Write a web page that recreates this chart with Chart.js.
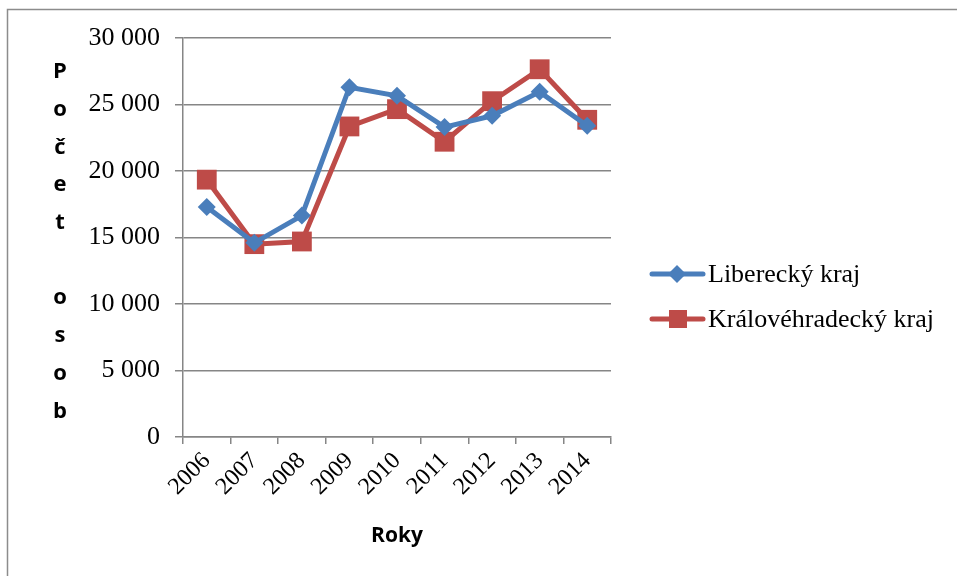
<!DOCTYPE html>
<html>
<head>
<meta charset="utf-8">
<script src="https://cdn.jsdelivr.net/npm/chart.js@4"></script>
<style>
  html, body { margin: 0; padding: 0; background: #fff; }
  #wrap { width: 957px; height: 576px; }
</style>
</head>
<body>
<div id="wrap"><canvas id="myChart" width="957" height="576"></canvas></div>
<script>
const years = ["2006", "2007", "2008", "2009", "2010", "2011", "2012", "2013", "2014"];
const liberecky = [17300, 14600, 16650, 26300, 25650, 23300, 24150, 25950, 23400];
const kralovehradecky = [19350, 14500, 14700, 23350, 24650, 22200, 25250, 27650, 23850];
const seriesNames = ["Liberecký kraj", "Královéhradecký kraj"];
const yTitleLetters = ["P", "o", "č", "e", "t", "", "o", "s", "o", "b"];
const xTitle = "Roky";

const blue = "#4a7ebb";
const red = "#be4b48";
const gridColor = "#868686";

function fmt(v) {
    return String(v).replace(/\B(?=(\d{3})+(?!\d))/g, " ");
}

// frame, stacked y title and legend
const extras = {
    id: "extras",
    afterDraw(chart) {
        const ctx = chart.ctx;
        ctx.save();
        ctx.strokeStyle = "#8c8c8c";
        ctx.lineWidth = 1.5;
        ctx.beginPath();
        ctx.moveTo(7.5, 600);
        ctx.lineTo(7.5, 9.5);
        ctx.lineTo(960, 9.5);
        ctx.stroke();

        ctx.fillStyle = "#000";
        ctx.font = "bold 22px 'Open Sans', sans-serif";
        ctx.textAlign = "center";
        ctx.textBaseline = "middle";
        yTitleLetters.forEach((ch, i) => {
            ctx.fillText(ch, 60, 72 + i * 37.7);
        });

        // legend
        const colors = [blue, red];
        const shapes = ["diamond", "square"];
        seriesNames.forEach((name, i) => {
            const y = 274 + i * 45;
            ctx.strokeStyle = colors[i];
            ctx.lineWidth = 5;
            ctx.lineCap = "round";
            ctx.beginPath();
            ctx.moveTo(652, y);
            ctx.lineTo(703, y);
            ctx.stroke();
            ctx.fillStyle = colors[i];
            ctx.beginPath();
            if (shapes[i] === "diamond") {
                ctx.moveTo(677, y - 9);
                ctx.lineTo(686, y);
                ctx.lineTo(677, y + 9);
                ctx.lineTo(668, y);
            } else {
                ctx.rect(669, y - 9, 18, 18);
            }
            ctx.closePath();
            ctx.fill();
            ctx.fillStyle = "#000";
            ctx.font = "26px 'Liberation Serif', serif";
            ctx.textAlign = "left";
            ctx.fillText(name, 708, y + 1);
        });
        ctx.restore();
    }
};

new Chart("myChart", {
    type: "line",
    data: {
        labels: years,
        datasets: [{
            label: seriesNames[0],
            data: liberecky,
            borderColor: blue,
            backgroundColor: blue,
            borderWidth: 5,
            pointStyle: "rectRot",
            pointRadius: 9,
            pointHoverRadius: 9,
            pointBorderWidth: 0,
            tension: 0
        }, {
            label: seriesNames[1],
            data: kralovehradecky,
            borderColor: red,
            backgroundColor: red,
            borderWidth: 5,
            pointStyle: "rect",
            pointRadius: 14,
            pointHoverRadius: 14,
            pointBorderWidth: 0,
            tension: 0
        }]
    },
    options: {
        responsive: false,
        animation: false,
        layout: { padding: { left: 73, top: 38, right: 346, bottom: 0 } },
        plugins: {
            legend: { display: false },
            tooltip: { enabled: false }
        },
        scales: {
            x: {
                offset: true,
                afterFit(s) { s.height = 139; },
                grid: {
                    offset: true,
                    drawOnChartArea: false,
                    drawTicks: true,
                    tickLength: 7,
                    color: gridColor,
                    lineWidth: 1.5
                },
                border: { color: gridColor, width: 1.5 },
                ticks: {
                    minRotation: 45,
                    maxRotation: 45,
                    padding: 3,
                    color: "#000",
                    font: { family: "'Liberation Serif', serif", size: 24 }
                },
                title: {
                    display: true,
                    text: xTitle,
                    color: "#000",
                    padding: { top: 0, bottom: 27 },
                    font: { family: "'Open Sans', sans-serif", size: 21, weight: "bold" }
                }
            },
            y: {
                min: 0,
                max: 30000,
                afterFit(s) { s.width = 110; },
                grid: {
                    color: gridColor,
                    lineWidth: 1.5,
                    tickLength: 8
                },
                border: { color: gridColor, width: 1.5 },
                ticks: {
                    stepSize: 5000,
                    padding: 15,
                    color: "#000",
                    font: { family: "'Liberation Serif', serif", size: 26 },
                    callback: v => fmt(v)
                }
            }
        }
    },
    plugins: [extras]
});
</script>
</body>
</html>
